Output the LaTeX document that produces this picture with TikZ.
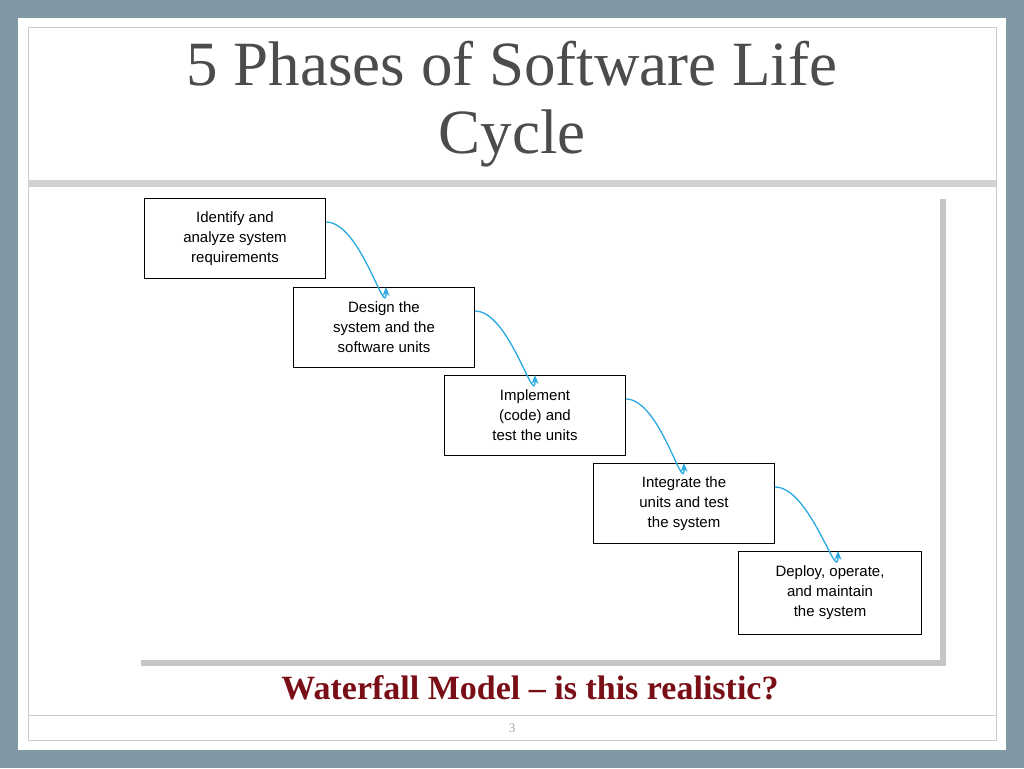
\documentclass[tikz,border=0pt]{standalone}
\usepackage{fontspec}
\setmainfont{Liberation Serif}
\newfontfamily\boxfont{Liberation Sans}
\usetikzlibrary{arrows.meta}
\definecolor{bgc}{HTML}{7F98A3}
\definecolor{arr}{HTML}{2AA8E0}
\definecolor{wred}{HTML}{7A0E17}
\tikzset{x=1pt,y=-1pt,
 phase/.style={draw,line width=1pt,minimum width=181pt,minimum height=80pt,align=center,font=\boxfont\fontsize{15}{20}\selectfont,anchor=north west,inner sep=0pt},
 flow/.style={draw=arr,line width=1.3pt,-{Stealth[length=9pt,width=7pt]}}}
\begin{document}
\begin{tikzpicture}
\useasboundingbox (0,0) rectangle (1024,768);
\fill[bgc] (0,0) rectangle (1024,768);
\fill[white] (18,18) rectangle (1006,750);
\draw[gray!40,line width=1pt] (28,28) rectangle (996,740);
\fill[gray!35] (28,180) rectangle (996,187);
\draw[gray!40] (28,715) -- (996,715);
\node[font=\fontsize{63}{68}\selectfont,text=black!70,align=center] (title) at (512,104) {5 Phases of Software Life\\Cycle};
\fill[gray!45] (141,199) rectangle (946,666);
\fill[white] (135,193) rectangle (940,660);
\node[phase] (a) at (144,198) {Identify and\\analyze system\\requirements};
\node[phase] (b) at (293,287) {Design the\\system and the\\software units};
\node[phase] (c) at (444,375) {Implement\\(code) and\\test the units};
\node[phase] (d) at (593,463) {Integrate the\\units and test\\the system};
\node[phase,minimum width=183pt,minimum height=83pt] (e) at (738,551) {Deploy, operate,\\and maintain\\the system};
\draw[flow] ([yshift=-24pt]a.north east) to[out=0,in=-90] ([xshift=2pt]b.north);
\draw[flow] ([yshift=-24pt]b.north east) to[out=0,in=-90] (c.north);
\draw[flow] ([yshift=-24pt]c.north east) to[out=0,in=-90] (d.north);
\draw[flow] ([yshift=-24pt]d.north east) to[out=0,in=-90] ([xshift=8pt]e.north);
\node[font=\bfseries\fontsize{34}{38}\selectfont,text=wred] (cap) at (530,688) {Waterfall Model -- is this realistic?};
\node[font=\fontsize{13}{15}\selectfont,text=gray!70] (pg) at (512,728) {3};
\end{tikzpicture}
\end{document}
